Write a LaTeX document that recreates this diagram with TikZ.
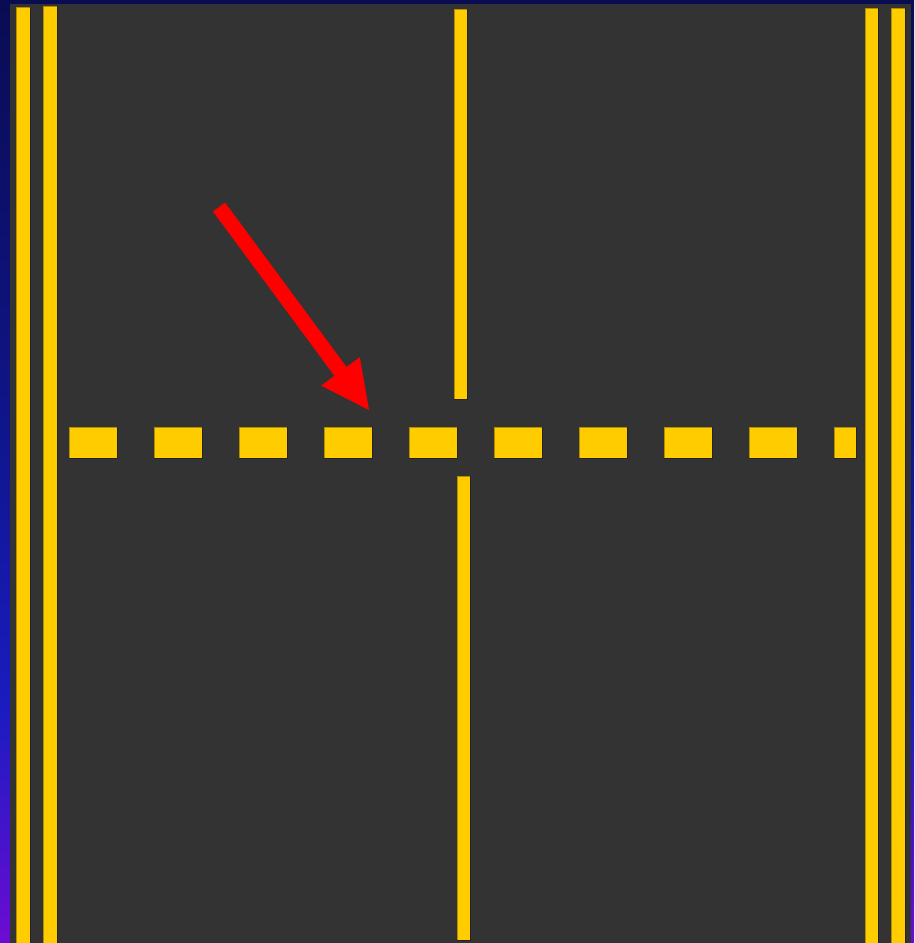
\documentclass[tikz,border=0pt]{standalone}
\usepackage{xcolor}
\usepackage{tikz}
\usetikzlibrary{
  arrows.meta,
  calc
}

\definecolor{roadgray}{HTML}{333333}
\definecolor{roadyellow}{HTML}{FFCC00}
\definecolor{skytop}{RGB}{10,12,82}
\definecolor{skyupper}{RGB}{14,20,130}
\definecolor{skymid}{RGB}{26,28,192}
\definecolor{skybottom}{RGB}{108,12,210}

% the path is mapped onto 25bp..75bp of the shading
\pgfdeclareverticalshading{roadsky}{100bp}{
  color(0bp)=(skybottom); color(25bp)=(skybottom); color(37.5bp)=(skymid);
  color(55bp)=(skyupper); color(75bp)=(skytop); color(100bp)=(skytop)}

\tikzset{
  roadline/.style={fill=roadyellow, draw=black, draw opacity=0.3, line width=1pt},
  pointer/.style={draw=red, line width=15pt,
    -{Triangle[length=48pt,width=48pt,line width=0pt]}}
}

\begin{document}
\begin{tikzpicture}[x=1pt,y=-1pt]
  \useasboundingbox (0,0) rectangle (914,943);

  % Background and road surface
  \shade[shading=roadsky] (0,0) rectangle (914,943);
  \fill[roadgray] (10,4) rectangle (911,943);

  % Double lines on both edges
  \draw[roadline] (16,7) rectangle (30,943);
  \draw[roadline] (43,6) rectangle (57,943);
  \draw[roadline] (865,8) rectangle (878,943);
  \draw[roadline] (891,8) rectangle (905,943);

  % Centre line, broken at the crossing
  \draw[roadline] (454,9) rectangle (467,399);
  \draw[roadline] (457,476) rectangle (470,940);

  % Dashed cross line
  \foreach \x in {69,154,...,834}{
    \pgfmathsetmacro\xend{min(\x+48,856)}
    \draw[roadline] (\x,427) rectangle (\xend,458);
  }

  % Pointer
  \coordinate (tail) at (219,207);
  \coordinate (tip) at (369,410);
  \draw[pointer] (tail) -- (tip);
\end{tikzpicture}
\end{document}
